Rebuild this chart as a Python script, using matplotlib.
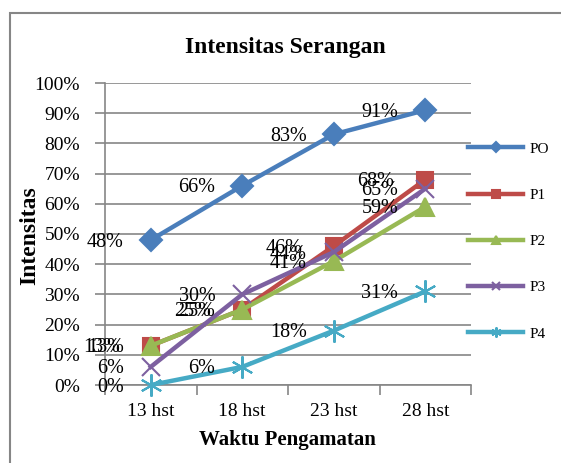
import matplotlib.pyplot as plt
from matplotlib.patches import Rectangle

plt.rcParams['font.family'] = ['Liberation Serif', 'DejaVu Serif']

categories = ['13 hst', '18 hst', '23 hst', '28 hst']
series_names = ['PO', 'P1', 'P2', 'P3', 'P4']
po = [48, 66, 83, 91]
p1 = [13, 25, 46, 68]
p2 = [13, 25, 41, 59]
p3 = [6, 30, 44, 65]
p4 = [0, 6, 18, 31]
yticks = [0, 10, 20, 30, 40, 50, 60, 70, 80, 90, 100]

colors = ['#4A7EBB', '#BE4B48', '#98B954', '#7D60A0', '#46AAC5']
markers = ['D', 's', '^', 'x', (6, 2, 0)]
msizes = [11, 12, 13, 13, 16]
# small horizontal nudges (px) to mimic the overlapping labels
nudges = [0, -4, 0, 0, 0]

W, H = 561, 463
fig = plt.figure(figsize=(W / 100, H / 100), dpi=100)
ax = fig.add_axes([105 / W, 1 - 385 / H, (471 - 105) / W, (385 - 83) / H])

x = list(range(len(categories)))
for name, vals, c, m, ms, dx in zip(series_names, [po, p1, p2, p3, p4],
                                     colors, markers, msizes, nudges):
    ax.plot(x, vals, color=c, lw=3.2, marker=m, ms=ms, mew=1.5,
            mec=c, mfc=c, label=name, clip_on=False, zorder=3)
    for xi, v in zip(x, vals):
        ax.annotate(f'{v}%', (xi, v), xytext=(-27 + dx, -2),
                    textcoords='offset pixels', ha='right', va='center',
                    fontsize=14.5, zorder=4)

ax.set_xlim(-0.5, 3.5)
ax.set_ylim(0, 100)
ax.set_yticks(yticks)
ax.set_yticklabels([f'{t}%' for t in yticks])
ax.set_xticks(x)
ax.set_xticklabels(categories)
ax.set_xticks([-0.5, 0.5, 1.5, 2.5, 3.5], minor=True)
ax.tick_params(axis='x', which='major', length=0, pad=13, labelsize=14)
ax.tick_params(axis='x', which='minor', length=7, color='#868686', width=1.2)
ax.tick_params(axis='y', length=7, color='#868686', width=1.2, pad=11,
               labelsize=14)
ax.grid(axis='y', color='#868686', lw=1.2)
ax.set_axisbelow(True)
for s in ['top', 'right']:
    ax.spines[s].set_visible(False)
for s in ['left', 'bottom']:
    ax.spines[s].set_color('#868686')
    ax.spines[s].set_linewidth(1.2)

leg = fig.legend(loc='upper left', bbox_to_anchor=(468 / W, 1 - 142 / H),
                 frameon=False, fontsize=11, handlelength=3.6,
                 labelspacing=2.13, markerscale=0.45, handletextpad=0.4,
                 borderaxespad=0, borderpad=0)

fig.text(285 / W, 1 - 47 / H, 'Intensitas Serangan', ha='center',
         va='center', fontsize=17, fontweight='bold')
fig.text(287 / W, 1 - 440 / H, 'Waktu Pengamatan', ha='center',
         va='center', fontsize=15, fontweight='bold')
fig.text(30 / W, 1 - 236 / H, 'Intensitas', ha='center', va='center',
         rotation=90, fontsize=17, fontweight='bold')

fig.patches.append(Rectangle((10 / W, -0.1), 1.2, 1 - 13 / H + 0.1,
                             transform=fig.transFigure, fill=False,
                             ec='#868686', lw=1.5))

fig.savefig('out.png', dpi=100)
